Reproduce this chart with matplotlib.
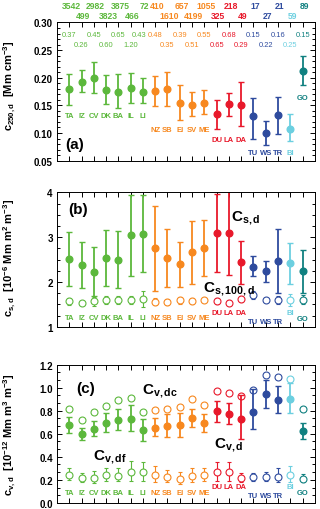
import numpy as np
import matplotlib
matplotlib.use("Agg")
import matplotlib.pyplot as plt
from matplotlib.ticker import MultipleLocator, FormatStrFormatter

plt.rcParams['font.family'] = ['Liberation Sans', 'DejaVu Sans']
plt.rcParams['font.weight'] = 'bold'
plt.rcParams['mathtext.fontset'] = 'custom'
plt.rcParams['mathtext.rm'] = 'Liberation Sans:bold'
plt.rcParams['mathtext.bf'] = 'Liberation Sans:bold'
plt.rcParams['mathtext.it'] = 'Liberation Sans:bold'
plt.rcParams['mathtext.default'] = 'bf'

# ---- data ----
sites = ['TA', 'IZ', 'CV', 'DK', 'BA', 'IL', 'LI', 'NZ', 'SB', 'EI', 'SV', 'ME',
         'DU', 'LA', 'DA', 'TU', 'WS', 'TR', 'BI', 'GO']
groups = ['g'] * 7 + ['o'] * 5 + ['r'] * 3 + ['b'] * 3 + ['lb', 't']

n_obs = [3542, 499, 2982, 3823, 3875, 466, 72, 410, 1610, 657, 4199, 1055,
         325, 218, 49, 17, 27, 21, 59, 89]
ratio = [0.37, 0.26, 0.45, 0.60, 0.65, 1.20, 0.43, 0.48, 0.35, 0.39, 0.51, 0.55,
         0.65, 0.68, 0.29, 0.15, 0.22, 0.16, 0.25, 0.15]
upper_row = ['TA', 'CV', 'BA', 'LI', 'NZ', 'EI', 'ME', 'LA', 'TU', 'TR', 'GO']

# panel a: c_250,d
c250 = [0.180, 0.193, 0.200, 0.178, 0.175, 0.181, 0.175, 0.176, 0.180, 0.155, 0.151, 0.155,
        0.134, 0.152, 0.151, 0.130, 0.100, 0.133, 0.107, 0.213]
c250_hi = [0.207, 0.214, 0.229, 0.205, 0.207, 0.208, 0.199, 0.203, 0.211, 0.187, 0.174, 0.178,
           0.160, 0.173, 0.192, 0.163, 0.121, 0.166, 0.134, 0.239]
c250_lo = [0.151, 0.174, 0.172, 0.152, 0.146, 0.154, 0.154, 0.148, 0.148, 0.123, 0.130, 0.134,
           0.107, 0.131, 0.113, 0.090, 0.078, 0.098, 0.086, 0.187]

# panel b: c_s,d and c_s,100,d
cs = [2.51, 2.38, 2.23, 2.54, 2.49, 3.04, 3.06, 2.75, 2.54, 2.40, 2.66, 2.75,
      3.10, 3.10, 2.44, 2.34, 2.25, 2.46, 2.43, 2.25]
cs_hi = [3.11, 2.90, 2.78, 3.16, 3.13, 3.93, 3.93, 3.69, 3.19, 2.90, 3.35, 3.39,
         3.97, 4.04, 2.92, 2.57, 2.46, 3.18, 2.87, 2.72]
cs_lo = [1.91, 1.86, 1.69, 1.91, 1.86, 2.14, 2.22, 1.81, 1.90, 1.90, 1.96, 2.13,
         2.23, 2.16, 1.96, 2.14, 2.00, 1.75, 1.95, 1.75]
cs100 = [1.57, 1.54, 1.57, 1.60, 1.60, 1.60, 1.62, 1.56, 1.56, 1.59, 1.57, 1.60,
         1.57, 1.54, 1.62, 1.71, 1.60, 1.60, 1.60, 1.61]
cs100_err = [0.08, 0.04, 0.10, 0.08, 0.09, 0.08, 0.17, 0.08, 0.07, 0.07, 0.07, 0.05,
             0.07, 0.05, 0.06, 0.08, 0.02, 0.08, 0.14, 0.10]

# panel c: c_v,d, c_v,dc, c_v,df
cv = [0.676, 0.595, 0.642, 0.694, 0.723, 0.731, 0.633, 0.653, 0.665, 0.676, 0.740, 0.691,
      0.795, 0.775, 0.731, 0.792, 0.945, 0.893, 0.902, 0.624]
cv_hi = [0.749, 0.647, 0.714, 0.777, 0.815, 0.850, 0.725, 0.734, 0.772, 0.777, 0.818, 0.772,
         0.882, 0.864, 0.939, 0.988, 1.069, 1.017, 1.038, 0.694]
cv_lo = [0.607, 0.543, 0.584, 0.613, 0.633, 0.621, 0.540, 0.578, 0.569, 0.575, 0.662, 0.613,
         0.702, 0.685, 0.555, 0.642, 0.824, 0.777, 0.777, 0.555]
cvdc = [0.812, 0.720, 0.786, 0.841, 0.890, 0.913, 0.786, 0.806, 0.815, 0.835, 0.902, 0.853,
        0.968, 0.951, 0.925, 0.980, 1.110, 1.090, 1.075, 0.812]
cvdf = [0.246, 0.217, 0.217, 0.246, 0.237, 0.272, 0.272, 0.246, 0.228, 0.208, 0.237, 0.243,
        0.272, 0.266, 0.217, 0.223, 0.223, 0.228, 0.246, 0.208]
cvdf_hi = [0.303, 0.260, 0.275, 0.303, 0.303, 0.361, 0.358, 0.324, 0.289, 0.266, 0.303, 0.303,
           0.358, 0.358, 0.260, 0.257, 0.270, 0.300, 0.324, 0.251]
cvdf_lo = [0.200, 0.180, 0.170, 0.190, 0.188, 0.190, 0.190, 0.180, 0.180, 0.165, 0.180, 0.190,
           0.190, 0.190, 0.180, 0.190, 0.190, 0.180, 0.180, 0.180]

# ---- style ----
colors = {'g': '#5cb83c', 'o': '#f7881f', 'r': '#e8192b', 'b': '#2e4b9e',
          'lb': '#6ccfe0', 't': '#108080'}
x = np.arange(len(sites))
col = [colors[g] for g in groups]

fig = plt.figure(figsize=(3.2, 5.1), dpi=100)
L, W = 0.178, 0.806
ax_a = fig.add_axes([L, 0.683, W, 0.271])
ax_b = fig.add_axes([L, 0.357, W, 0.264])
ax_c = fig.add_axes([L, 0.012, W, 0.271])


def style(ax, ylim, major, minor, fmt):
    ax.set_xlim(-1, 20)
    ax.set_ylim(*ylim)
    ax.set_xticks(x)
    ax.set_xticklabels([])
    ax.yaxis.set_major_locator(MultipleLocator(major))
    ax.yaxis.set_minor_locator(MultipleLocator(minor))
    ax.yaxis.set_major_formatter(FormatStrFormatter(fmt))
    ax.tick_params(axis='both', which='both', direction='in', top=True, right=True,
                   labelsize=7, pad=3, width=0.7)
    ax.tick_params(axis='x', length=3.5)
    ax.tick_params(axis='y', which='major', length=3.5)
    ax.tick_params(axis='y', which='minor', length=2)
    for s in ax.spines.values():
        s.set_linewidth(0.7)
    for lab in ax.get_yticklabels():
        lab.set_fontweight('bold')


def filled(ax, y, lo, hi):
    for i in x:
        ax.errorbar(x[i], y[i], yerr=[[y[i] - lo[i]], [hi[i] - y[i]]], fmt='o', color=col[i],
                    ms=4.8, capsize=2, elinewidth=1.3, capthick=1.0)


def hollow(ax, y, lo=None, hi=None):
    for i in x:
        if lo is None:
            ax.plot(x[i], y[i], 'o', mfc='white', mec=col[i], ms=5, mew=0.8)
        else:
            ax.errorbar(x[i], y[i], yerr=[[y[i] - lo[i]], [hi[i] - y[i]]], fmt='o',
                        color=col[i], mfc='white', mec=col[i], ms=5, mew=0.8,
                        capsize=1.5, elinewidth=0.8, capthick=0.8)


def site_labels(ax, ys):
    for i in x:
        ax.text(x[i], ys[groups[i]], sites[i], color=col[i], fontsize=5.5,
                fontweight='bold', ha='center', va='center')


# panel a
style(ax_a, (0.05, 0.30), 0.05, 0.01, '%.2f')
filled(ax_a, c250, c250_lo, c250_hi)
site_labels(ax_a, {'g': 0.132, 'o': 0.1055, 'r': 0.0875, 'b': 0.064, 'lb': 0.064, 't': 0.1645})
for i in x:
    up = sites[i] in upper_row
    ax_a.text(x[i] + 0.15, 1.125 if up else 1.053, str(n_obs[i]), color=col[i], fontsize=6.2,
              fontweight='bold', ha='center', va='center', transform=ax_a.get_xaxis_transform())
    dx = -0.35 if sites[i] == 'LI' else 0.0
    ax_a.text(x[i] + dx, 0.2776 if up else 0.2595, '%.2f' % ratio[i], color=col[i], fontsize=5.4,
              fontweight='normal', ha='center', va='center')
ax_a.text(-0.3, 0.080, '(a)', fontsize=11, fontweight='bold', va='center')
ax_a.set_ylabel(r'c$_{250,d}$  [Mm cm$^{-3}$]', fontsize=8, fontweight='bold')
ax_a.yaxis.set_label_coords(-0.15, 0.55)

# panel b
style(ax_b, (1, 4), 1, 0.25, '%d')
filled(ax_b, cs, cs_lo, cs_hi)
hollow(ax_b, cs100, [a - e for a, e in zip(cs100, cs100_err)],
       [a + e for a, e in zip(cs100, cs100_err)])
site_labels(ax_b, {'g': 1.21, 'o': 1.21, 'r': 1.33, 'b': 1.12, 'lb': 1.33, 't': 1.19})
ax_b.text(-0.1, 3.63, '(b)', fontsize=11, fontweight='bold', va='center')
ax_b.text(13.2, 3.38, r'C$_{s,d}$', fontsize=11, fontweight='bold')
ax_b.text(10.9, 1.80, r'C$_{s,100,d}$', fontsize=11, fontweight='bold')
ax_b.set_ylabel(r'c$_{s,d}$  [10$^{-6}$ Mm m$^{2}$ m$^{-3}$]', fontsize=8, fontweight='bold')
ax_b.yaxis.set_label_coords(-0.15, 0.52)

# panel c
style(ax_c, (0, 1.2), 0.2, 0.2 / 3, '%.1f')
hollow(ax_c, cvdc)
hollow(ax_c, cvdf, cvdf_lo, cvdf_hi)
filled(ax_c, cv, cv_lo, cv_hi)
site_labels(ax_c, {'g': 0.09, 'o': 0.09, 'r': 0.14, 'b': 0.065, 'lb': 0.14, 't': 0.09})
ax_c.text(0.6, 1.0, '(c)', fontsize=11, fontweight='bold', va='center')
ax_c.text(5.95, 0.952, r'C$_{v,dc}$', fontsize=11, fontweight='bold')
ax_c.text(1.9, 0.382, r'C$_{v,df}$', fontsize=11, fontweight='bold')
ax_c.text(11.8, 0.483, r'C$_{v,d}$', fontsize=11, fontweight='bold')
ax_c.set_ylabel(r'c$_{v,d}$  [10$^{-12}$ Mm m$^{3}$ m$^{-3}$]', fontsize=8, fontweight='bold')
ax_c.yaxis.set_label_coords(-0.15, 0.5)

fig.savefig('out.png', dpi=100)
